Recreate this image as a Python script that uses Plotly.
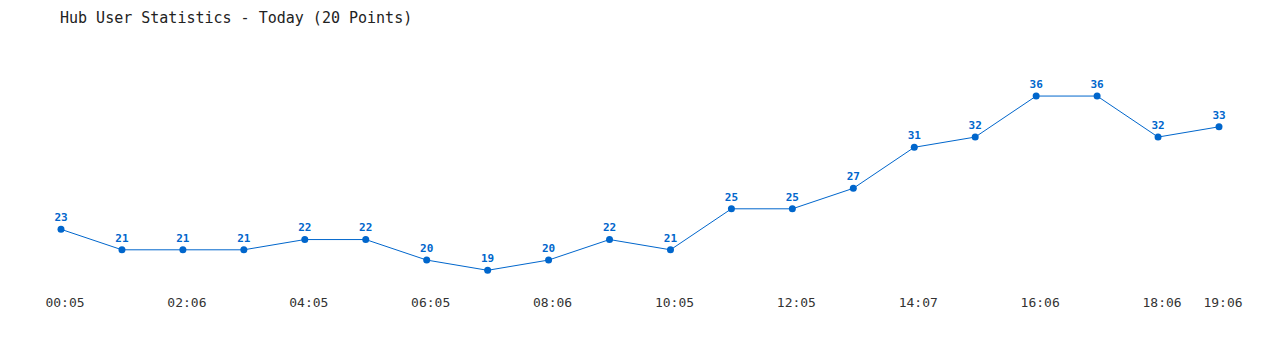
import plotly.graph_objects as go

values = [23, 21, 21, 21, 22, 22, 20, 19, 20, 22, 21, 25, 25, 27, 31, 32, 36, 36, 32, 33]
times = ["00:05", "01:05", "02:06", "03:05", "04:05", "05:05", "06:05", "07:05", "08:06", "09:05",
         "10:05", "11:05", "12:05", "13:06", "14:07", "15:06", "16:06", "17:06", "18:06", "19:06"]
tick_idx = [0, 2, 4, 6, 8, 10, 12, 14, 16, 18, 19]
tick_labels = [times[i] for i in tick_idx]
title_text = "Hub User Statistics - Today (20 Points)"

color = "#0066cc"
x = list(range(len(values)))

fig = go.Figure()
fig.add_trace(go.Scatter(
    x=x, y=values, mode="lines+markers+text",
    line=dict(color=color, width=1),
    marker=dict(color=color, size=7),
    text=[str(v) for v in values],
    textposition="top center",
    textfont=dict(family="DejaVu Sans Mono", size=11, color=color, weight="bold"),
    hoverinfo="skip",
))

W, H = 1280, 350
mt, mb = 40, 60
b = (1219 - 61) / 19
x0 = -61 / b
x1 = (W - 61) / b
ppu = 10.25
y23 = 229.3
ytop = 23 + (y23 - mt) / ppu
ybot = 23 - ((H - mb) - y23) / ppu

fig.update_layout(
    width=W, height=H,
    margin=dict(l=0, r=0, t=mt, b=mb),
    paper_bgcolor="white", plot_bgcolor="white",
    showlegend=False,
    title=dict(text=title_text, x=60 / W, xanchor="left", y=1 - 18 / H, yanchor="middle",
               font=dict(family="DejaVu Sans Mono", size=15, color="#222222")),
    xaxis=dict(range=[x0, x1], tickmode="array", tickvals=tick_idx, ticktext=tick_labels,
               showgrid=False, zeroline=False, showline=False, ticks="",
               ticklabelshift=4, ticklabelstandoff=3,
               tickfont=dict(family="DejaVu Sans Mono", size=13, color="#333333")),
    yaxis=dict(range=[ybot, ytop], showgrid=False, zeroline=False, showline=False,
               showticklabels=False, ticks=""),
)

fig.write_html("out.html")
